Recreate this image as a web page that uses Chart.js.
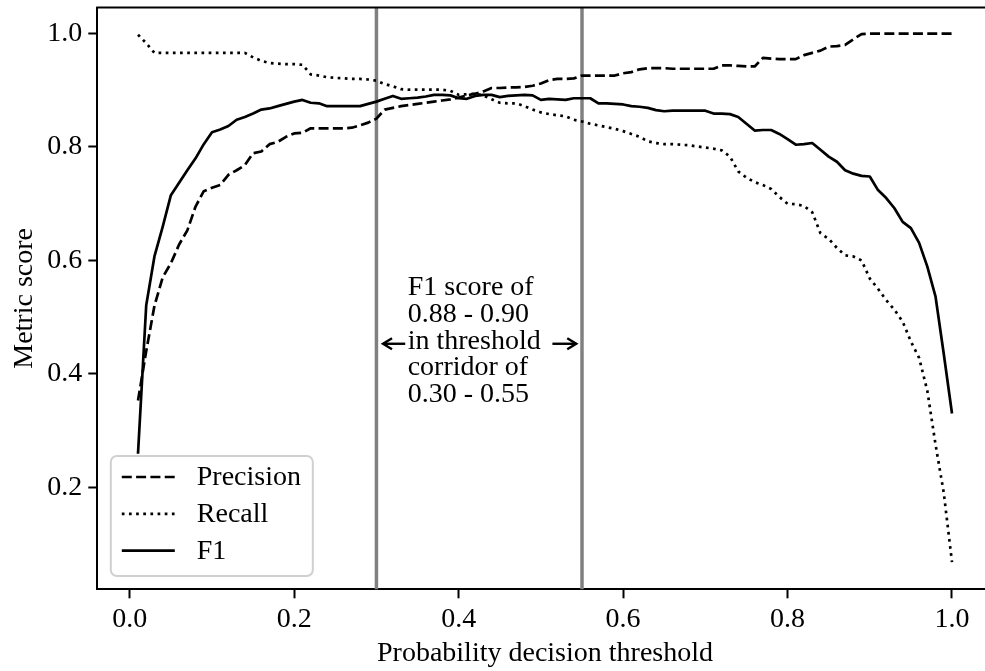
<!DOCTYPE html>
<html><head><meta charset="utf-8">
<script src="https://cdn.jsdelivr.net/npm/chart.js@4.4.1/dist/chart.umd.min.js"></script>
<style>
html,body{margin:0;padding:0;overflow:hidden;background:#fff;width:985px;height:671px}
#wrap{position:absolute;left:0;top:0;width:1000px;height:671px}
</style>
</head><body><div id="wrap"><canvas id="c" width="1000" height="671"></canvas></div>
<script>
const thresholds = [
0.01,0.02,0.03,0.04,0.05,0.06,0.07,0.08,0.09,0.10,
0.11,0.12,0.13,0.14,0.15,0.16,0.17,0.18,0.19,0.20,
0.21,0.22,0.23,0.24,0.25,0.26,0.27,0.28,0.29,0.30,
0.31,0.32,0.33,0.34,0.35,0.36,0.37,0.38,0.39,0.40,
0.41,0.42,0.43,0.44,0.45,0.46,0.47,0.48,0.49,0.50,
0.51,0.52,0.53,0.54,0.55,0.56,0.57,0.58,0.59,0.60,
0.61,0.62,0.63,0.64,0.65,0.66,0.67,0.68,0.69,0.70,
0.71,0.72,0.73,0.74,0.75,0.76,0.77,0.78,0.79,0.80,
0.81,0.82,0.83,0.84,0.85,0.86,0.87,0.88,0.89,0.90,
0.91,0.92,0.93,0.94,0.95,0.96,0.97,0.98,0.99,1.00];

const precision = [
0.353,0.440,0.520,0.570,0.595,0.628,0.653,0.695,0.722,0.728,
0.733,0.751,0.759,0.768,0.789,0.792,0.805,0.809,0.818,0.824,
0.825,0.833,0.833,0.833,0.833,0.833,0.834,0.838,0.843,0.850,
0.866,0.869,0.872,0.874,0.876,0.878,0.880,0.882,0.884,0.887,
0.891,0.894,0.898,0.904,0.904,0.905,0.905,0.906,0.908,0.912,
0.918,0.920,0.920,0.921,0.926,0.926,0.926,0.926,0.926,0.930,
0.932,0.937,0.939,0.939,0.939,0.938,0.938,0.938,0.938,0.938,
0.938,0.944,0.944,0.943,0.942,0.942,0.957,0.956,0.955,0.955,
0.955,0.962,0.966,0.970,0.977,0.978,0.980,0.990,0.999,1.000,
1.000,1.000,1.000,1.000,1.000,1.000,1.000,1.000,1.000,1.000];

const recall = [
0.998,0.983,0.966,0.966,0.966,0.966,0.966,0.966,0.966,0.966,
0.966,0.966,0.966,0.966,0.958,0.952,0.948,0.947,0.946,0.946,
0.945,0.928,0.926,0.923,0.922,0.921,0.920,0.920,0.919,0.917,
0.911,0.907,0.902,0.901,0.901,0.901,0.901,0.901,0.899,0.892,
0.893,0.894,0.891,0.884,0.878,0.877,0.877,0.872,0.866,0.861,
0.858,0.856,0.854,0.848,0.845,0.841,0.838,0.835,0.832,0.828,
0.823,0.818,0.810,0.807,0.805,0.805,0.804,0.803,0.801,0.799,
0.797,0.794,0.783,0.757,0.746,0.738,0.733,0.726,0.712,0.700,
0.699,0.696,0.685,0.648,0.638,0.622,0.609,0.607,0.600,0.568,
0.550,0.530,0.513,0.492,0.457,0.428,0.370,0.275,0.190,0.068];

const f1 = [
0.259,0.521,0.607,0.659,0.715,0.737,0.759,0.780,0.805,0.826,
0.831,0.837,0.848,0.853,0.859,0.866,0.868,0.872,0.876,0.880,
0.883,0.878,0.877,0.872,0.872,0.872,0.872,0.872,0.876,0.880,
0.885,0.890,0.885,0.886,0.887,0.889,0.892,0.892,0.891,0.886,
0.885,0.890,0.892,0.892,0.888,0.890,0.891,0.892,0.891,0.883,
0.885,0.884,0.883,0.886,0.886,0.886,0.877,0.877,0.876,0.875,
0.872,0.871,0.869,0.865,0.863,0.864,0.864,0.864,0.864,0.864,
0.859,0.859,0.858,0.853,0.841,0.829,0.830,0.830,0.823,0.814,
0.804,0.805,0.807,0.795,0.783,0.774,0.759,0.753,0.749,0.748,
0.724,0.710,0.692,0.668,0.657,0.631,0.589,0.536,0.435,0.330];

const seriesNames = ['Precision', 'Recall', 'F1'];
const xTickValues = [0.0, 0.2, 0.4, 0.6, 0.8, 1.0];
const xTickLabels = ['0.0', '0.2', '0.4', '0.6', '0.8', '1.0'];
const yTickValues = [0.2, 0.4, 0.6, 0.8, 1.0];
const yTickLabels = ['0.2', '0.4', '0.6', '0.8', '1.0'];
const corridor = [0.30, 0.55];
const annotationLines = ['F1 score of', '0.88 - 0.90', 'in threshold', 'corridor of', '0.30 - 0.55'];
const annotationX = 0.338;
const arrowY = 0.453;
const arrowLeft = [0.335, 0.308];
const arrowRight = [0.514, 0.543];

const FONT = "'Liberation Serif', 'DejaVu Serif', serif";
const FS = 28;
const LW = 2.7;

function pts(ys) { return thresholds.map((x, i) => ({x: x, y: ys[i]})); }

const styles = [
  {dash: [3.7 * LW, 1.6 * LW]},
  {dash: [1 * LW, 1.65 * LW]},
  {dash: []}
];
const seriesData = [precision, recall, f1];

const datasets = seriesNames.map((name, i) => ({
  label: name,
  data: pts(seriesData[i]),
  borderColor: '#000',
  borderWidth: LW,
  borderDash: styles[i].dash,
  borderCapStyle: 'butt',
  borderJoinStyle: 'round',
  pointRadius: 0,
  tension: 0,
  fill: false,
  order: 3 - i
}));

const overlay = {
  id: 'overlay',
  beforeDatasetsDraw(chart) {
    const {ctx, chartArea: a, scales: {x, y}} = chart;
    ctx.save();
    ctx.strokeStyle = '#808080';
    ctx.lineWidth = 3.5;
    corridor.forEach(v => {
      const px = x.getPixelForValue(v);
      ctx.beginPath(); ctx.moveTo(px, a.top); ctx.lineTo(px, a.bottom); ctx.stroke();
    });
    ctx.restore();
  },
  afterDraw(chart) {
    const {ctx, chartArea: a, scales: {x, y}} = chart;
    ctx.save();
    // top and right spines
    ctx.strokeStyle = '#000'; ctx.lineWidth = 2;
    ctx.beginPath(); ctx.moveTo(a.left - 1, a.top); ctx.lineTo(a.right + 1, a.top); ctx.stroke();
    ctx.beginPath(); ctx.moveTo(a.right, a.top); ctx.lineTo(a.right, a.bottom); ctx.stroke();

    // annotation text
    const ay = y.getPixelForValue(arrowY);
    ctx.fillStyle = '#000';
    ctx.font = FS + 'px ' + FONT;
    ctx.textAlign = 'left';
    ctx.textBaseline = 'alphabetic';
    const tx = x.getPixelForValue(annotationX);
    annotationLines.forEach((t, k) => {
      ctx.fillText(t, tx, ay + 5 + (k - 2) * 26.7);
    });
    // arrows
    const drawArrow = (from, to) => {
      const x0 = x.getPixelForValue(from), x1 = x.getPixelForValue(to);
      const dir = Math.sign(x1 - x0);
      ctx.strokeStyle = '#000'; ctx.lineWidth = 2.4; ctx.lineCap = 'butt';
      ctx.beginPath(); ctx.moveTo(x0, ay); ctx.lineTo(x1, ay); ctx.stroke();
      ctx.beginPath();
      ctx.moveTo(x1 - dir * 9, ay - 5.5); ctx.lineTo(x1, ay); ctx.lineTo(x1 - dir * 9, ay + 5.5);
      ctx.stroke();
    };
    drawArrow(arrowLeft[0], arrowLeft[1]);
    drawArrow(arrowRight[0], arrowRight[1]);

    // legend
    const bx = a.left + 13.5, bw = 202, bh = 120, by = a.bottom - 13.3 - bh;
    ctx.beginPath();
    ctx.roundRect(bx, by, bw, bh, 6);
    ctx.fillStyle = 'rgba(255,255,255,0.8)';
    ctx.fill();
    ctx.strokeStyle = '#d0d0d0'; ctx.lineWidth = 2;
    ctx.stroke();
    chart.data.datasets.forEach((ds, i) => {
      const ry = by + 21 + i * 36.8;
      ctx.strokeStyle = '#000'; ctx.lineWidth = LW; ctx.lineCap = 'butt';
      ctx.setLineDash(ds.borderDash);
      ctx.beginPath(); ctx.moveTo(bx + 11, ry); ctx.lineTo(bx + 64, ry); ctx.stroke();
      ctx.setLineDash([]);
      ctx.fillStyle = '#000';
      ctx.textBaseline = 'middle';
      ctx.fillText(ds.label, bx + 86, ry + 1);
    });
    ctx.restore();
  }
};

new Chart(document.getElementById('c'), {
  type: 'line',
  data: {datasets},
  options: {
    responsive: false,
    animation: false,
    devicePixelRatio: 1,
    layout: {padding: {top: 7.5, right: 7.3, left: 0, bottom: 0}},
    plugins: {legend: {display: false}, tooltip: {enabled: false}},
    scales: {
      x: {
        type: 'linear', min: -0.0395, max: 1.0495,
        afterBuildTicks: s => { s.ticks = xTickValues.map(v => ({value: v})); },
        afterFit: s => { s.height = 81.7; s.paddingLeft = 0; s.paddingRight = 0; },
        ticks: {
          autoSkip: false, maxRotation: 0, color: '#000', padding: 5,
          font: {family: FONT, size: FS},
          callback: (v, i) => xTickLabels[i]
        },
        grid: {display: true, drawOnChartArea: false, drawTicks: true, tickLength: 9, tickWidth: 2, tickColor: '#000'},
        border: {display: true, color: '#000', width: 2},
        title: {display: true, text: 'Probability decision threshold', color: '#000', font: {family: FONT, size: FS}, padding: {top: 0, bottom: 1}}
      },
      y: {
        type: 'linear', min: 0.02, max: 1.046,
        afterBuildTicks: s => { s.ticks = yTickValues.map(v => ({value: v})); },
        afterFit: s => { s.width = 97.3; s.paddingTop = 0; s.paddingBottom = 0; },
        ticks: {
          autoSkip: false, color: '#000', padding: 6,
          font: {family: FONT, size: FS},
          callback: (v, i) => yTickLabels[i]
        },
        grid: {display: true, drawOnChartArea: false, drawTicks: true, tickLength: 9, tickWidth: 2, tickColor: '#000'},
        border: {display: true, color: '#000', width: 2},
        title: {display: true, text: 'Metric score', color: '#000', font: {family: FONT, size: FS}, padding: {top: 8, bottom: 0}}
      }
    }
  },
  plugins: [overlay]
});
</script>
</body></html>
